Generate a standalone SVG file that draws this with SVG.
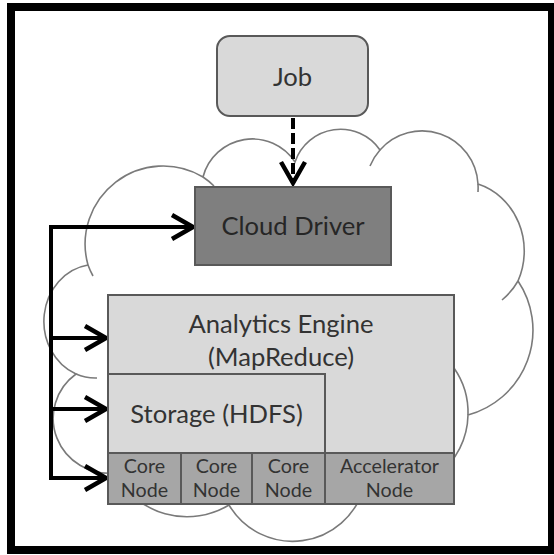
<svg xmlns="http://www.w3.org/2000/svg" width="554" height="555" viewBox="0 0 554 555">
<defs>
<style>
.cloud{fill:#ffffff;stroke:#7a7a7a;stroke-width:1.6}
.hook{fill:none;stroke:#7a7a7a;stroke-width:1.6}
.box{stroke:#595959;stroke-width:2}
.light{fill:#d9d9d9}
.dark{fill:#7f7f7f}
.mid{fill:#a6a6a6}
.t{font-family:Lato,"Liberation Sans",sans-serif;fill:#333333;text-anchor:middle}
.big{font-size:25.6px}
.small{font-size:19.7px}
.conn{fill:none;stroke:#000;stroke-width:4}
</style>
<marker id="arr" viewBox="0 0 24 26" refX="22" refY="13" markerWidth="24" markerHeight="26" markerUnits="userSpaceOnUse" orient="auto" overflow="visible">
<path d="M1,1 L22,13 L1,25" fill="none" stroke="#000" stroke-width="4.5"/>
</marker>
</defs>
<rect x="0" y="0" width="554" height="555" fill="#ffffff"/>
<rect id="frame" x="11" y="7" width="541" height="543" fill="#ffffff" stroke="#000" stroke-width="8"/>
<g id="cloud">
<path class="cloud" d="M76 374 A52 57 0 0 1 88 265 A78 78 0 0 1 203 177 A51 51 0 0 1 295 162 A48 48 0 0 1 380 150 A56 56 0 0 1 478 184 A65 70 0 0 1 518 281 A88 88 0 0 1 468 415 A78 78 0 0 1 364 487 A74 74 0 0 1 229 505 A81 81 0 0 1 115 473 A56 55 0 0 1 76 374 Z"/>
<path class="hook" d="M76 374 A52 57 0 0 0 97 378"/>
<path class="hook" d="M88 265 A78 78 0 0 0 93 276"/>
<path class="hook" d="M203 177 A78 78 0 0 1 214 186"/>
<path class="hook" d="M370 166 A56 56 0 0 1 380 150"/>
<path class="hook" d="M478 184 A56 56 0 0 1 478 192"/>
<path class="hook" d="M518 281 A65 70 0 0 1 502 300"/>
<path class="hook" d="M454 368 A78 78 0 0 1 468 415"/>
</g>
<g id="connectors">
<path class="conn" d="M293 118 V183" stroke-dasharray="11 4" marker-end="url(#arr)"/>
<path class="conn" d="M51 480 V227 H193" stroke-linejoin="miter" marker-end="url(#arr)"/>
<path class="conn" d="M51 338 H106" marker-end="url(#arr)"/>
<path class="conn" d="M51 409 H106" marker-end="url(#arr)"/>
<path class="conn" d="M49 478 H106" marker-end="url(#arr)"/>
</g>
<g id="job">
<rect class="box light" x="217" y="36" width="151" height="80" rx="13"/>
<text class="t big" x="292.5" y="86">Job</text>
</g>
<g id="cloud-driver">
<rect class="box dark" x="195" y="187" width="196" height="78"/>
<text class="t big" x="293" y="235" style="fill:#262626">Cloud Driver</text>
</g>
<g id="analytics-engine">
<rect class="box light" x="108" y="295" width="346" height="158"/>
<text class="t big" x="281" y="333">Analytics Engine</text>
<text class="t big" x="281" y="366">(MapReduce)</text>
</g>
<g id="storage">
<rect class="box light" x="108" y="374" width="217" height="79"/>
<text class="t big" x="216.5" y="423">Storage (HDFS)</text>
</g>
<g id="core-node-1">
<rect class="box mid" x="108" y="453" width="73" height="51"/>
<text class="t small" x="144.5" y="473">Core</text>
<text class="t small" x="144.5" y="497">Node</text>
</g>
<g id="core-node-2">
<rect class="box mid" x="181" y="453" width="71" height="51"/>
<text class="t small" x="216.5" y="473">Core</text>
<text class="t small" x="216.5" y="497">Node</text>
</g>
<g id="core-node-3">
<rect class="box mid" x="252" y="453" width="73" height="51"/>
<text class="t small" x="288.5" y="473">Core</text>
<text class="t small" x="288.5" y="497">Node</text>
</g>
<g id="accelerator-node">
<rect class="box mid" x="325" y="453" width="129" height="51"/>
<text class="t small" x="389.5" y="473">Accelerator</text>
<text class="t small" x="389.5" y="497">Node</text>
</g>
</svg>
